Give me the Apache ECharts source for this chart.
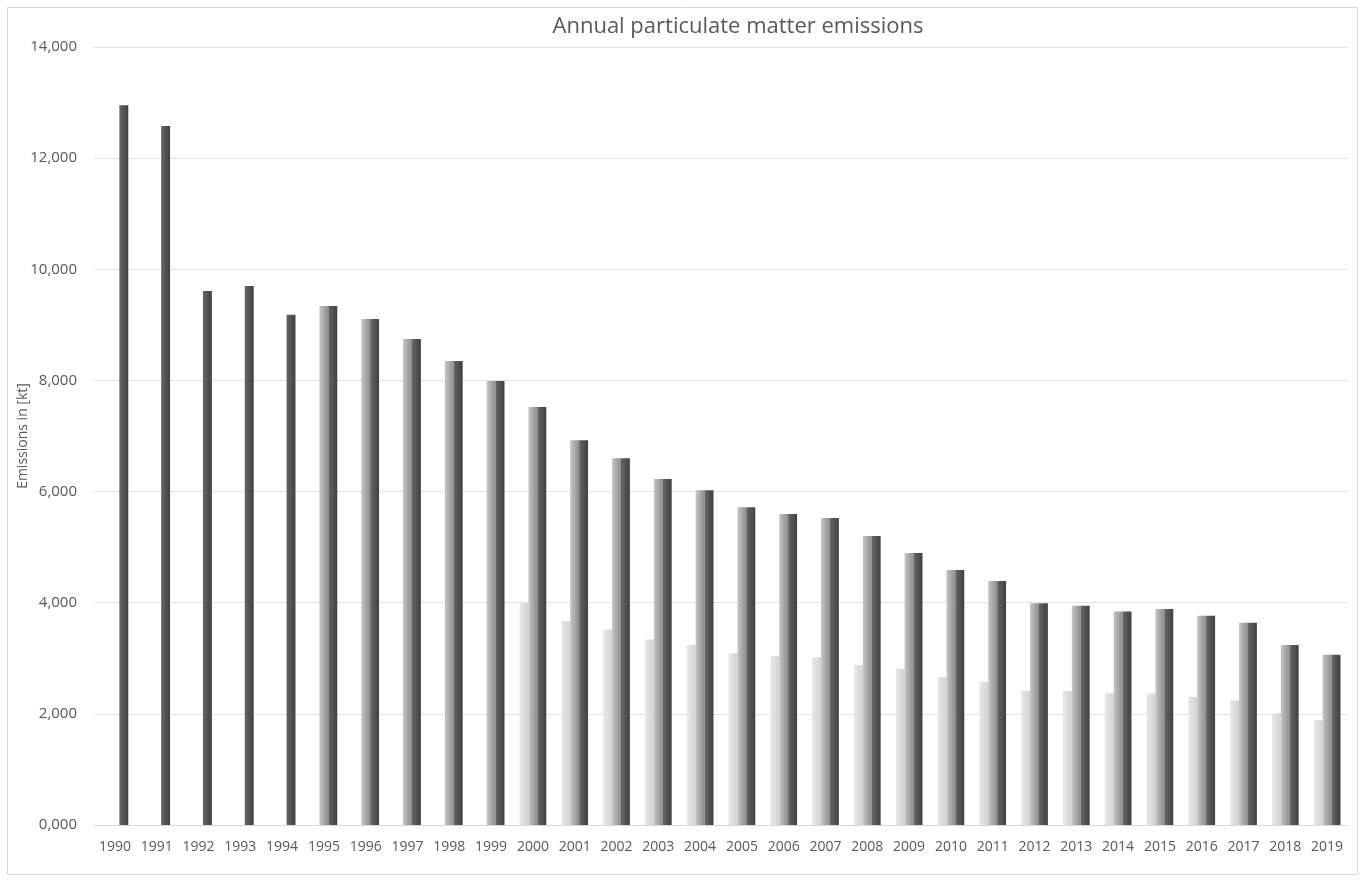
<!DOCTYPE html>
<html>
<head>
<meta charset="utf-8">
<script src="https://cdn.jsdelivr.net/npm/echarts@6/dist/echarts.min.js"></script>
<style>
html,body{margin:0;padding:0;background:#fff;}
#chart{width:1368px;height:881px;}
</style>
</head>
<body>
<div id="chart"></div>
<script>
const years = ['1990','1991','1992','1993','1994','1995','1996','1997','1998','1999','2000','2001','2002','2003','2004','2005','2006','2007','2008','2009','2010','2011','2012','2013','2014','2015','2016','2017','2018','2019'];
// light series (from 2000)
const seriesLight = [null,null,null,null,null,null,null,null,null,null,3990,3670,3520,3340,3240,3090,3035,3020,2880,2805,2665,2575,2410,2410,2365,2365,2310,2240,2010,1885];
// medium series (from 1995)
const seriesMedium = [null,null,null,null,null,9340,9105,8745,8350,7990,7520,6925,6600,6225,6025,5720,5595,5525,5200,4895,4590,4390,3990,3945,3840,3885,3765,3640,3240,3065];
// dark series (all years)
const seriesDark = [12950,12580,9610,9700,9180,9340,9105,8745,8350,7990,7520,6925,6600,6225,6025,5720,5595,5525,5200,4895,4590,4390,3990,3945,3840,3885,3765,3640,3240,3065];
const yTicks = [0,2000,4000,6000,8000,10000,12000,14000];

function grad(a,b){
  return new echarts.graphic.LinearGradient(0,0,1,0,[{offset:0,color:a},{offset:1,color:b}]);
}
const font = '"Open Sans", "Liberation Sans", sans-serif';
const chart = echarts.init(document.getElementById('chart'));
chart.setOption({
  animation:false,
  backgroundColor:'#ffffff',
  graphic:[{
    type:'rect', shape:{x:7.5,y:7.5,width:1350,height:867},
    style:{fill:null,stroke:'#d9d9d9',lineWidth:1}, silent:true
  },{
    type:'text', x:738, y:27,
    style:{text:'Annual particulate matter emissions', fontFamily:font, fontSize:22,
      fill:'#595959', textAlign:'center', textVerticalAlign:'middle'}
  }],
  grid:{left:94,right:20,top:47,bottom:56,containLabel:false,outerBoundsMode:'none'},
  xAxis:{
    type:'category', data:years,
    axisLine:{lineStyle:{color:'#d9d9d9'}},
    axisTick:{show:false},
    axisLabel:{fontFamily:font,fontSize:14,color:'#595959',margin:15,interval:0}
  },
  yAxis:{
    type:'value', min:0, max:14000, interval:2000,
    name:'Emissions in [kt]', nameLocation:'middle', nameGap:64, nameRotate:90,
    nameMoveOverlap:false,
    nameTextStyle:{fontFamily:font,fontSize:14,color:'#595959'},
    axisLine:{show:false}, axisTick:{show:false},
    splitLine:{lineStyle:{color:'#e3e3e3'}},
    axisLabel:{fontFamily:font,fontSize:15,color:'#595959',margin:17,
      formatter:function(v){ if(v===0) return '0,000'; return v.toLocaleString('en-US'); }}
  },
  series:[
    {type:'bar',name:'light',data:seriesLight,barGap:'0%',barCategoryGap:'36%',
      itemStyle:{color:grad('#e9e9e9','#d2d2d2')}},
    {type:'bar',name:'medium',data:seriesMedium,barGap:'0%',barCategoryGap:'36%',
      itemStyle:{color:grad('#c6c6c6','#8c8c8c')}},
    {type:'bar',name:'dark',data:seriesDark,barGap:'0%',barCategoryGap:'36%',
      itemStyle:{color:grad('#666666','#404040')}}
  ]
});
</script>
</body>
</html>
